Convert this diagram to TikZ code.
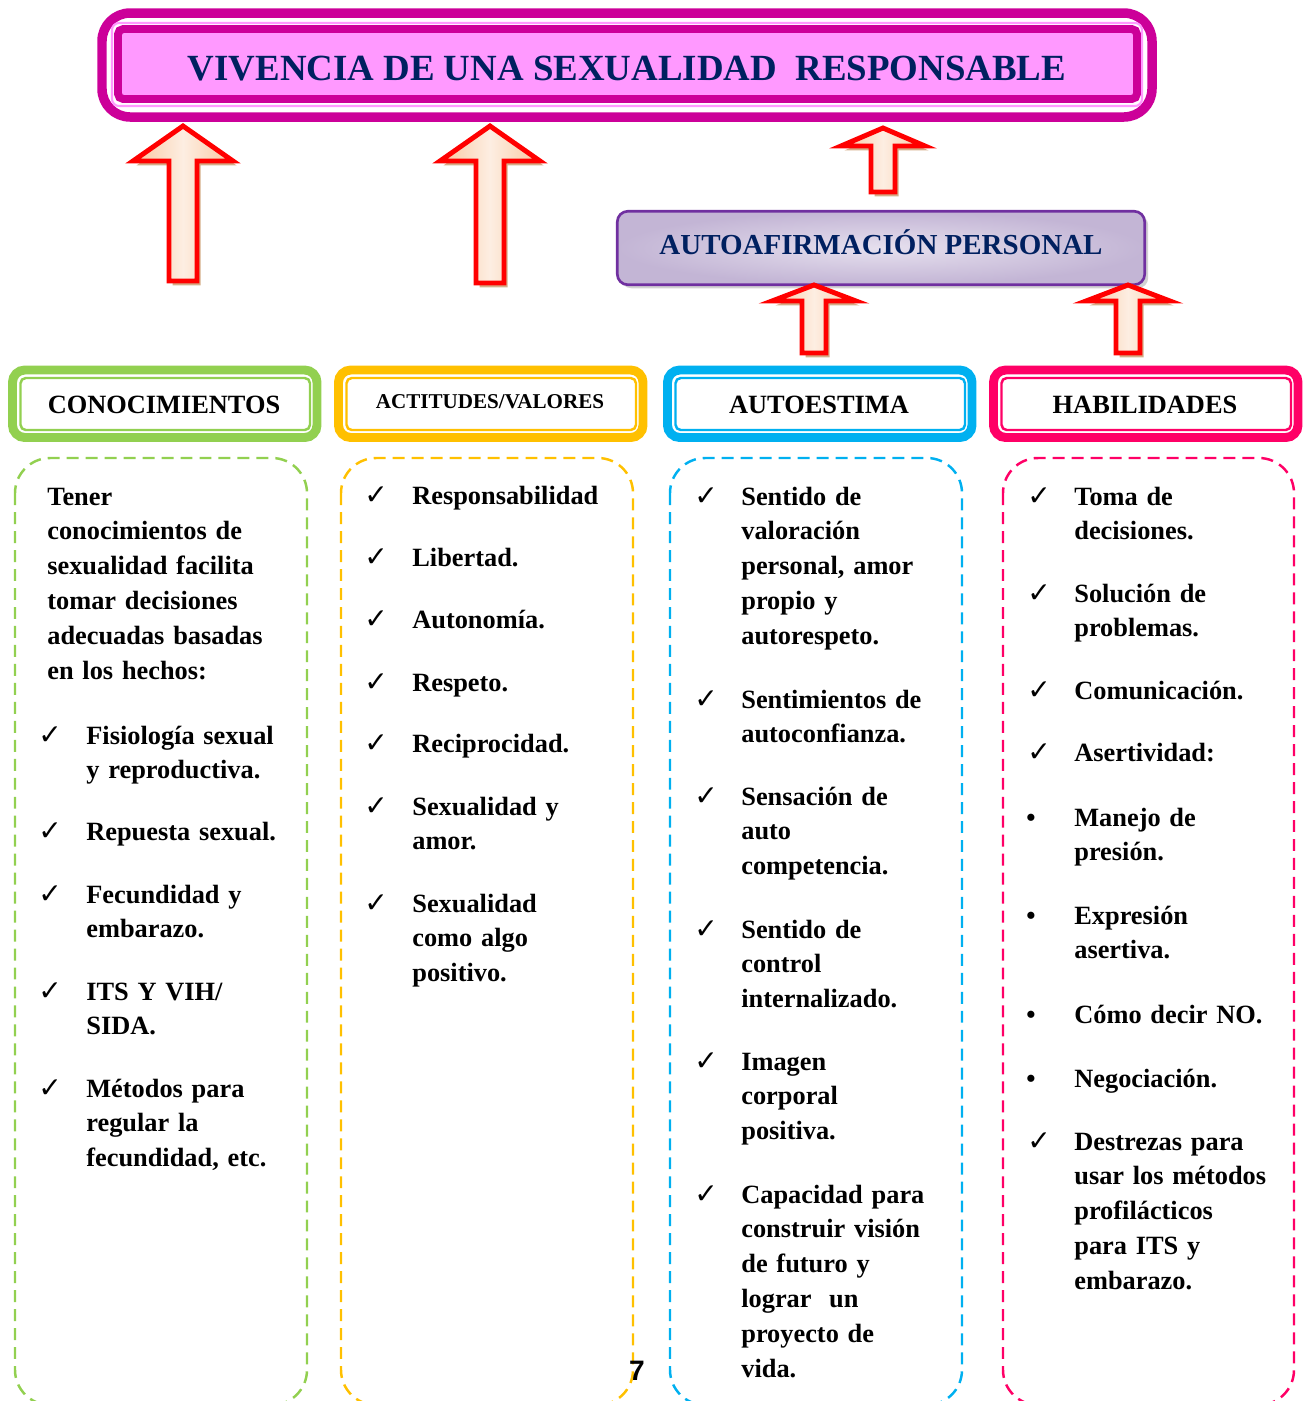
\documentclass[tikz,border=0pt]{standalone}
\usepackage{fontspec}
\setmainfont{Liberation Serif}
\newfontfamily\symfont{DejaVu Sans}
\newfontfamily\numfont{Liberation Sans}
\usetikzlibrary{positioning,shadows}

\definecolor{magentaline}{HTML}{CC0099}
\definecolor{pinkfill}{HTML}{FF99FF}
\definecolor{navytext}{HTML}{002060}
\definecolor{purpleline}{HTML}{7030A0}
\definecolor{lavlight}{HTML}{E6E0EE}
\definecolor{lavdark}{HTML}{C3B5D5}
\definecolor{verde}{HTML}{92D050}
\definecolor{amarillo}{HTML}{FFC000}
\definecolor{celeste}{HTML}{00B0F0}
\definecolor{fucsia}{HTML}{FF0066}
\definecolor{arrowred}{HTML}{FF0000}
\definecolor{peachdark}{HTML}{F9C8A0}
\definecolor{peachlight}{HTML}{FDEEE2}
\definecolor{arrowshadow}{HTML}{D4AE88}

\tikzset{
  bigarrow/.style={draw=arrowred, line width=2.8pt, miter limit=10,
    left color=peachdark, right color=peachdark, middle color=peachlight},
  headframe/.style={line width=5.1pt, rounded corners=7pt, fill=white},
  headinner/.style={line width=1.4pt, rounded corners=3pt},
  headtxt/.style={font=\bfseries\fontsize{15}{18}\selectfont, inner sep=0pt},
  dashbox/.style={line width=1.4pt, dash pattern=on 6.8pt off 4pt, rounded corners=20pt},
  listtxt/.style={font=\bfseries\fontsize{15}{19.9}\selectfont, text width=7cm,
    align=left, anchor=base west, inner sep=0pt},
  tick/.style={font=\symfont\fontsize{16}{18}\selectfont, anchor=base west, inner sep=0pt},
  dot/.style={font=\bfseries\fontsize{15}{15}\selectfont, anchor=base west, inner sep=0pt}
}

% block arrow pointing up: x, tip y, head base y, bottom y, head half width, shaft half width
\newcommand{\blockup}[6]{%
  \fill[arrowshadow, xshift=2pt, yshift=-2.5pt] (#1,#2) -- (#1+#5,#3) -- (#1+#6,#3)
    -- (#1+#6,#4) -- (#1-#6,#4) -- (#1-#6,#3) -- (#1-#5,#3) -- cycle;
  \draw[bigarrow] (#1,#2) -- (#1+#5,#3) -- (#1+#6,#3)
    -- (#1+#6,#4) -- (#1-#6,#4) -- (#1-#6,#3) -- (#1-#5,#3) -- cycle;
}

\begin{document}
\begin{tikzpicture}[x=0.02cm, y=-0.02cm]
  \useasboundingbox (0,0) rectangle (1306,1401);
  \clip (0,0) rectangle (1306,1401);

  % --- Title ---
  \draw[magentaline, line width=5.4pt, rounded corners=16pt, fill=white] (102,13) rectangle (1152,117);
  \draw[pinkfill, line width=1.2pt, rounded corners=4pt] (112,23) rectangle (1142,106);
  \draw[magentaline, line width=4.5pt, rounded corners=3pt, fill=pinkfill] (118,29) rectangle (1137,99);
  \node[font=\bfseries\fontsize{21}{25}\selectfont, text=navytext, inner sep=0pt] (titulo)
    at (627,69) {VIVENCIA DE UNA SEXUALIDAD\ \ RESPONSABLE};

  % --- Arrows to the title ---
  \blockup{183}{126}{161}{281}{50}{14}
  \blockup{490}{126}{161}{283}{50}{14}
  \blockup{883}{128}{146}{192}{42}{12}

  % --- Autoafirmacion ---
  \node[draw=purpleline, line width=1.5pt, rounded corners=6pt, inner color=lavlight,
    outer color=lavdark, minimum width=10.55cm, minimum height=1.47cm,
    drop shadow={shadow xshift=2pt, shadow yshift=-2pt, fill=black!35}] (autoafbox)
    at (881,248) {};
  \node[font=\bfseries\fontsize{16.5}{20}\selectfont, text=navytext, inner sep=0pt] (autoaf)
    at (881,242) {AUTOAFIRMACIÓN PERSONAL};

  \blockup{814}{285}{301}{353}{42}{12}
  \blockup{1128}{285}{301}{353}{42}{12}

  % --- Column headers ---
  \draw[verde, headframe] (12.5,370) rectangle (317,437.5);
  \draw[verde, headinner] (20.5,378) rectangle (310,430);
  \node[headtxt] (conoc) at (164,405) {CONOCIMIENTOS};

  \draw[amarillo, headframe] (338.5,370) rectangle (643,437.5);
  \draw[amarillo, headinner] (346.5,378) rectangle (636,430);
  \node[headtxt, font=\bfseries\fontsize{12}{14}\selectfont] (actit) at (490,402) {ACTITUDES/VALORES};

  \draw[celeste, headframe] (667.5,370) rectangle (972,437.5);
  \draw[celeste, headinner] (675.5,378) rectangle (965,430);
  \node[headtxt] (autoest) at (819,405) {AUTOESTIMA};

  \draw[fucsia, headframe] (993.5,370) rectangle (1298,437.5);
  \draw[fucsia, headinner] (1001.5,378) rectangle (1291,430);
  \node[headtxt] (habil) at (1145,405) {HABILIDADES};

  % --- Dashed panels ---
  \draw[verde, dashbox] (15,458) rectangle (307,1405);
  \draw[amarillo, dashbox] (341,458) rectangle (633,1405);
  \draw[celeste, dashbox] (670,458) rectangle (962,1405);
  \draw[fucsia, dashbox] (1003,458) rectangle (1294,1405);

  % --- Conocimientos ---
  \node[listtxt] (c1intro) at (47,505) {Tener\\ conocimientos de\\ sexualidad facilita\\
    tomar decisiones\\ adecuadas basadas\\ en los hechos:};
  \foreach \k/\y/\txt in {1/744/{Fisiología sexual\\ y reproductiva.}, 2/840/{Repuesta sexual.},
      3/903/{Fecundidad y\\ embarazo.}, 4/1000/{ITS Y VIH/\\ SIDA.},
      5/1097/{Métodos para\\ regular la\\ fecundidad, etc.}}{
    \node[tick] (c1m\k) at (38,\y) {✓};
    \node[listtxt] (c1t\k) at (86,\y) {\txt};
  }

  % --- Actitudes / valores ---
  \foreach \k/\y/\txt in {1/504/{Responsabilidad}, 2/566/{Libertad.}, 3/628/{Autonomía.},
      4/691/{Respeto.}, 5/752/{Reciprocidad.}, 6/815/{Sexualidad y\\ amor.},
      7/912/{Sexualidad\\ como algo\\ positivo.}}{
    \node[tick] (c2m\k) at (364,\y) {✓};
    \node[listtxt] (c2t\k) at (412,\y) {\txt};
  }

  % --- Autoestima ---
  \foreach \k/\y/\txt in {1/505/{Sentido de\\ valoración\\ personal, amor\\ propio y\\ autorespeto.},
      2/708/{Sentimientos de\\ autoconfianza.}, 3/805/{Sensación de\\ auto\\ competencia.},
      4/938/{Sentido de\\ control\\ internalizado.}, 5/1070/{Imagen\\ corporal\\ positiva.},
      6/1203/{Capacidad para\\ construir visión\\ de futuro y\\ lograr\ \ un\\ proyecto de\\ vida.}}{
    \node[tick] (c3m\k) at (694,\y) {✓};
    \node[listtxt] (c3t\k) at (741,\y) {\txt};
  }

  % --- Habilidades ---
  \foreach \k/\y/\txt in {1/505/{Toma de\\ decisiones.}, 2/602/{Solución de\\ problemas.},
      3/699/{Comunicación.}, 4/761/{Asertividad:},
      9/1150/{Destrezas para\\ usar los métodos\\ profilácticos\\ para ITS y\\ embarazo.}}{
    \node[tick] (c4m\k) at (1027,\y) {✓};
    \node[listtxt] (c4t\k) at (1074,\y) {\txt};
  }
  \foreach \k/\y/\txt in {5/826/{Manejo de\\ presión.}, 6/924/{Expresión\\ asertiva.},
      7/1023/{Cómo decir NO.}, 8/1087/{Negociación.}}{
    \node[dot] (c4m\k) at (1026,\y) {\textbullet};
    \node[listtxt] (c4t\k) at (1074,\y) {\txt};
  }

  % page number
  \node[font=\numfont\bfseries\fontsize{16}{18}\selectfont, inner sep=0pt] (pagina) at (637,1371) {7};
\end{tikzpicture}
\end{document}
